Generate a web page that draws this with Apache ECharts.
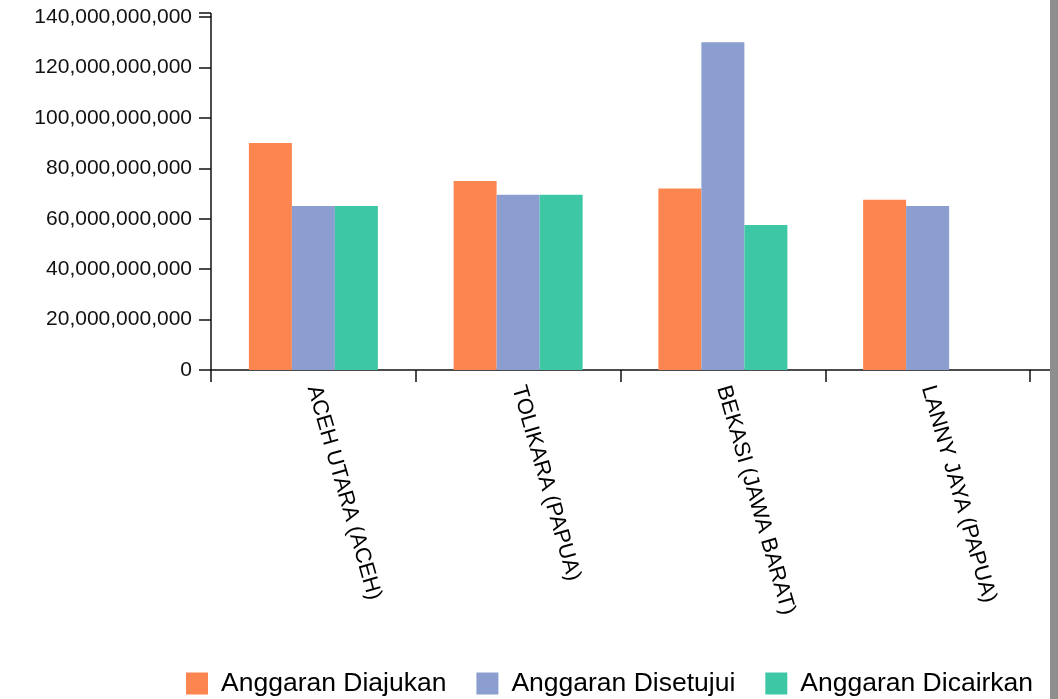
<!DOCTYPE html>
<html>
<head>
<meta charset="utf-8">
<script src="https://cdn.jsdelivr.net/npm/echarts@6/dist/echarts.min.js"></script>
<style>
html,body{margin:0;padding:0;background:#fff;}
#chart{width:1058px;height:699px;}
</style>
</head>
<body>
<div id="chart"></div>
<script>
const categories = ['ACEH UTARA (ACEH)', 'TOLIKARA (PAPUA)', 'BEKASI (JAWA BARAT)', 'LANNY JAYA (PAPUA)'];
const seriesNames = ['Anggaran Diajukan', 'Anggaran Disetujui', 'Anggaran Dicairkan'];
const diajukan = [90000000000, 75000000000, 72000000000, 67500000000];
const disetujui = [65000000000, 69500000000, 130000000000, 65000000000];
const dicairkan = [65000000000, 69500000000, 57500000000, 0];
const colors = ['#fd8550', '#8b9ecf', '#3ec7a4'];

const chart = echarts.init(document.getElementById('chart'), null, {renderer: 'canvas'});
const font = 'Liberation Sans, Arial, Helvetica, sans-serif';
const grid = {left: 211, top: 17, width: 819, height: 353};

chart.setOption({
  animation: false,
  backgroundColor: '#fff',
  color: colors,
  grid: grid,
  legend: {
    left: 186, top: 670, padding: 0,
    itemWidth: 22, itemHeight: 22, itemGap: 30,
    icon: 'rect',
    textStyle: {fontFamily: font, fontSize: 26.5, color: '#000', padding: [0, 0, 0, 8]},
    data: seriesNames
  },
  xAxis: {
    type: 'category',
    data: categories,
    axisLine: {lineStyle: {color: '#111', width: 1.5}},
    axisTick: {show: true, length: 12, lineStyle: {color: '#111', width: 1.5}},
    axisLabel: {rotate: -74, margin: 16, fontFamily: font, fontSize: 22, color: '#000'},
    splitLine: {show: false}
  },
  yAxis: {
    type: 'value',
    min: 0, max: 140000000000, interval: 20000000000,
    axisLine: {show: true, lineStyle: {color: '#111', width: 1.5}},
    axisTick: {show: true, length: 12, lineStyle: {color: '#111', width: 1.5}},
    axisLabel: {margin: 19, fontFamily: font, fontSize: 21, color: '#111',
      formatter: v => v.toLocaleString('en-US')},
    splitLine: {show: false}
  },
  series: [
    {name: seriesNames[0], type: 'bar', data: diajukan, barWidth: 43, barGap: '0%'},
    {name: seriesNames[1], type: 'bar', data: disetujui, barWidth: 43, barGap: '0%'},
    {name: seriesNames[2], type: 'bar', data: dicairkan, barWidth: 43, barGap: '0%'}
  ],
  graphic: [
    {type: 'line', shape: {x1: 199, y1: 13, x2: 211, y2: 13}, style: {stroke: '#111', lineWidth: 1.5}},
    {type: 'line', shape: {x1: 211, y1: 13, x2: 211, y2: 17}, style: {stroke: '#111', lineWidth: 1.5}},
    {type: 'line', shape: {x1: 1030, y1: 370, x2: 1050, y2: 370}, style: {stroke: '#111', lineWidth: 1.5}},
    {type: 'rect', shape: {x: 1050, y: 0, width: 8, height: 699}, style: {fill: '#8e8e8e'}}
  ]
});
</script>
</body>
</html>
